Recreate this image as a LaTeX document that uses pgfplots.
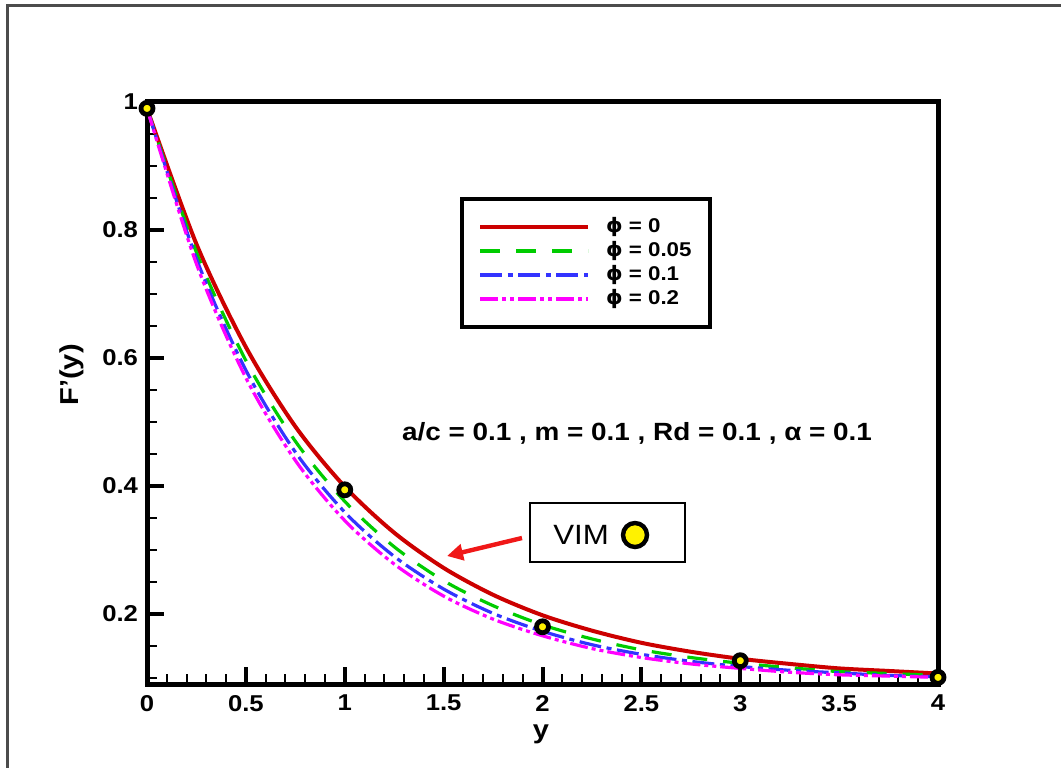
\documentclass[border=0pt]{standalone}
\usepackage{pgfplots}
\pgfplotsset{compat=1.18}
\usepackage{fontspec}
\setmainfont{Liberation Sans}[FakeStretch=1.12]
\newfontfamily\dejavu{DejaVu Sans}[FakeStretch=1.05]
\usetikzlibrary{arrows.meta}
\definecolor{cRed}{HTML}{CC0000}
\definecolor{cGreen}{HTML}{00CC00}
\definecolor{cBlue}{HTML}{3333FF}
\definecolor{cMag}{HTML}{FF00FF}
\definecolor{cArrow}{HTML}{F01818}
\begin{document}
\begin{tikzpicture}[x=1bp,y=1bp]
\useasboundingbox (0,0) rectangle (530.5,383.5);
\draw[line width=1.5bp, black!70] (3.5,-2) -- (3.5,380.5) -- (533,380.5);
\begin{axis}[
  at={(73.5bp,41.5bp)}, anchor=south west,
  scale only axis, width=395.5bp, height=291bp,
  xmin=0, xmax=4, ymin=0.0906, ymax=1.0,
  axis line style={line width=2.5bp},
  xtick={0,0.5,1,1.5,2,2.5,3,3.5,4},
  ytick={0.2,0.4,0.6,0.8,1},
  minor x tick num=4,
  minor ytick={0.1,0.15,0.25,0.3,0.35,0.45,0.5,0.55,0.65,0.7,0.75,0.85,0.9,0.95},
  tick align=inside, xtick pos=bottom, ytick pos=left,
  major tick length=8.5bp, minor tick length=5bp,
  every major tick/.style={line width=2bp, black},
  every minor tick/.style={line width=1bp, black},
  /pgf/number format/assume math mode=true,
  xticklabel style={font=\bfseries\fontsize{11.5}{13}\selectfont, yshift=-2bp},
  yticklabel style={font=\bfseries\fontsize{11.5}{13}\selectfont, xshift=-1bp},
  xlabel={y},
  xlabel style={at={(rel axis cs:0.498,-0.086)}, anchor=center, font=\bfseries\fontsize{13}{15}\selectfont},
  ylabel={F'(y)},
  ylabel style={at={(rel axis cs:-0.095,0.531)}, anchor=center, font=\bfseries\fontsize{13}{15}\selectfont},
  clip mode=individual,
  legend style={at={(axis cs:1.583,0.8514)}, anchor=north west, draw=black, line width=2bp,
    font=\bfseries\fontsize{10}{12}\selectfont, inner xsep=8bp, inner ysep=8bp, row sep=0bp,
    nodes={inner sep=1bp, text height=7.8bp, text depth=2.2bp}, cells={anchor=west},
    /tikz/every odd column/.append style={column sep=7bp}},
  legend image code/.code={\draw[#1] (0bp,0bp) -- (54bp,0bp);},
]
\addplot[color=cRed, line width=2bp, smooth] coordinates {
(0,0.990)(0.25,0.778)(0.5,0.617)(0.75,0.493)(1,0.399)(1.25,0.327)(1.5,0.272)(1.75,0.230)
(2,0.198)(2.25,0.174)(2.5,0.155)(2.75,0.141)(3,0.130)(3.25,0.122)(3.5,0.115)(3.75,0.111)(4,0.107)};
\addlegendentry{{\dejavu ϕ} = 0}
\addplot[color=cGreen, line width=1.6bp, dash pattern=on 10bp off 8bp, smooth] coordinates {
(0,0.990)(0.25,0.765)(0.5,0.596)(0.75,0.470)(1,0.376)(1.25,0.305)(1.5,0.252)(1.75,0.213)
(2,0.183)(2.25,0.161)(2.5,0.144)(2.75,0.132)(3,0.123)(3.25,0.116)(3.5,0.110)(3.75,0.107)(4,0.104)};
\addlegendentry{{\dejavu ϕ} = 0.05}
\addplot[color=cBlue, line width=1.6bp, dash pattern=on 11bp off 2.8bp on 2.5bp off 2.8bp, smooth] coordinates {
(0,0.990)(0.25,0.755)(0.5,0.581)(0.75,0.453)(1,0.359)(1.25,0.290)(1.5,0.239)(1.75,0.201)
(2,0.173)(2.25,0.152)(2.5,0.137)(2.75,0.126)(3,0.118)(3.25,0.112)(3.5,0.108)(3.75,0.104)(4,0.102)};
\addlegendentry{{\dejavu ϕ} = 0.1}
\addplot[color=cMag, line width=1.6bp, dash pattern=on 9bp off 2bp on 2bp off 2bp on 2bp off 2bp, smooth] coordinates {
(0,0.990)(0.25,0.747)(0.5,0.569)(0.75,0.440)(1,0.346)(1.25,0.278)(1.5,0.228)(1.75,0.192)
(2,0.166)(2.25,0.146)(2.5,0.132)(2.75,0.122)(3,0.115)(3.25,0.109)(3.5,0.105)(3.75,0.103)(4,0.101)};
\addlegendentry{{\dejavu ϕ} = 0.2}
\addplot[only marks, mark=*, mark size=3bp, mark options={draw=black, fill=yellow, line width=2.4bp}, forget plot]
coordinates {(0,0.99)(1,0.394)(2,0.18)(3,0.127)(4,0.101)};
\end{axis}
\node[font=\bfseries\fontsize{12.5}{14}\selectfont] at (318.5,167) {a/c = 0.1 , m = 0.1 , Rd = 0.1 , α = 0.1};
\draw[line width=1bp] (265,102.5) rectangle (342.5,132);
\node[font=\fontsize{14}{16}\selectfont, anchor=west, inner sep=0pt] at (276.5,116) {VIM};
\draw[line width=2.2bp, fill=yellow] (317.5,116) circle (6bp);
\draw[cArrow, line width=2.2bp, -{Triangle[length=8bp,width=8bp]}] (261,114.5) -- (223.5,105.5);
\end{tikzpicture}
\end{document}
